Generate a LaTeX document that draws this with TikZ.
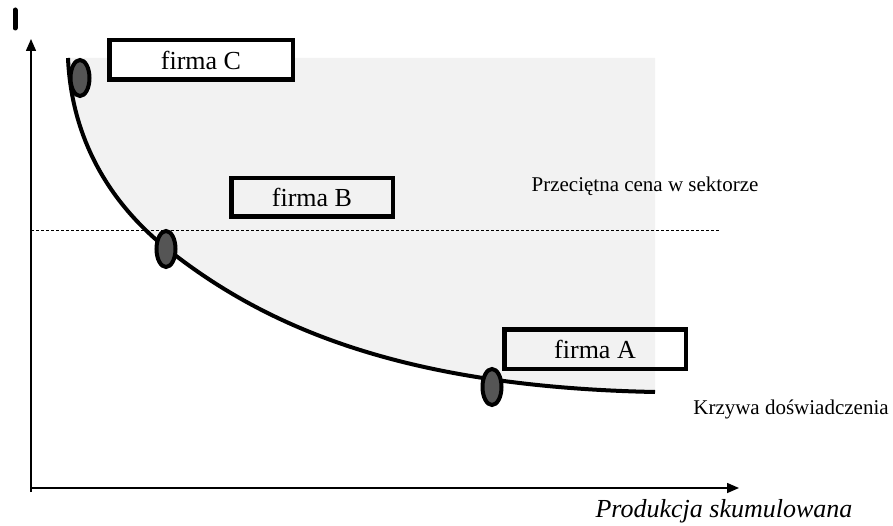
\documentclass[tikz,border=0pt]{standalone}
\usepackage{fontspec}
\setmainfont{Liberation Serif}
\usetikzlibrary{arrows.meta,shapes.geometric}
\definecolor{areagray}{HTML}{F2F2F2}
\definecolor{dotgray}{HTML}{555555}
\tikzset{
  axis/.style={line width=1.5pt,-{Triangle[length=12pt,width=10pt]}},
  firmbox/.style={draw,line width=4.5pt,inner sep=0pt,font=\fontsize{26}{30}\selectfont},
  firmdot/.style={ellipse,draw,line width=4pt,fill=dotgray,minimum width=19pt,minimum height=36pt,inner sep=0pt},
  curve/.style={line width=4pt},
  lbl/.style={font=\fontsize{21}{25}\selectfont,inner sep=0pt,anchor=base},
}
\begin{document}
\begin{tikzpicture}[x=1pt,y=-1pt]
\useasboundingbox (0,0) rectangle (893,526);
\coordinate (c0) at (68,58);
\coordinate (c1) at (166,248);
\coordinate (c2) at (655,392);
\coordinate (c3) at (655,58);
% shaded area above the curve
\fill[areagray] (c0) .. controls (72,150) and (120,211) .. (c1)
  .. controls (266,328) and (405,387) .. (c2) -- (c3) -- cycle;
% axes
\coordinate (o) at (31,492);
\coordinate (ytop) at (31,39);
\coordinate (xo) at (31,488);
\coordinate (xend) at (739,488);
\draw[axis] (o) -- (ytop);
\draw[axis] (xo) -- (xend);
% axis mark
\coordinate (m1) at (15,10);
\coordinate (m2) at (15,28);
\draw[line width=5pt,line cap=round] (m1) -- (m2);
% average price line
\coordinate (d1) at (31,230);
\coordinate (d2) at (720,230);
\draw[line width=0.9pt,dash pattern=on 3pt off 2pt] (d1) -- (d2);
% experience curve
\draw[curve] (c0) .. controls (72,150) and (120,211) .. (c1)
  .. controls (266,328) and (405,387) .. (c2);
% firms
\node[firmdot] (dC) at (80,78) {};
\node[firmdot] (dB) at (166,249) {};
\node[firmdot] (dA) at (492,387) {};
\node[firmbox,fill=white,minimum width=183.5pt,minimum height=39.5pt] (bC) at (201,60) {firma C};
\node[firmbox,minimum width=161.5pt,minimum height=38.5pt] (bB) at (312,197.5) {firma B};
\node[firmbox,minimum width=181.5pt,minimum height=39.5pt] (bA) at (595,349) {firma A};
% labels
\node[lbl] (price) at (645,192) {Przeciętna cena w sektorze};
\node[lbl] (krzywa) at (791,414) {Krzywa doświadczenia};
\node[lbl,font=\fontsize{26}{30}\selectfont\itshape] (prod) at (724,517) {Produkcja skumulowana};
\end{tikzpicture}
\end{document}
